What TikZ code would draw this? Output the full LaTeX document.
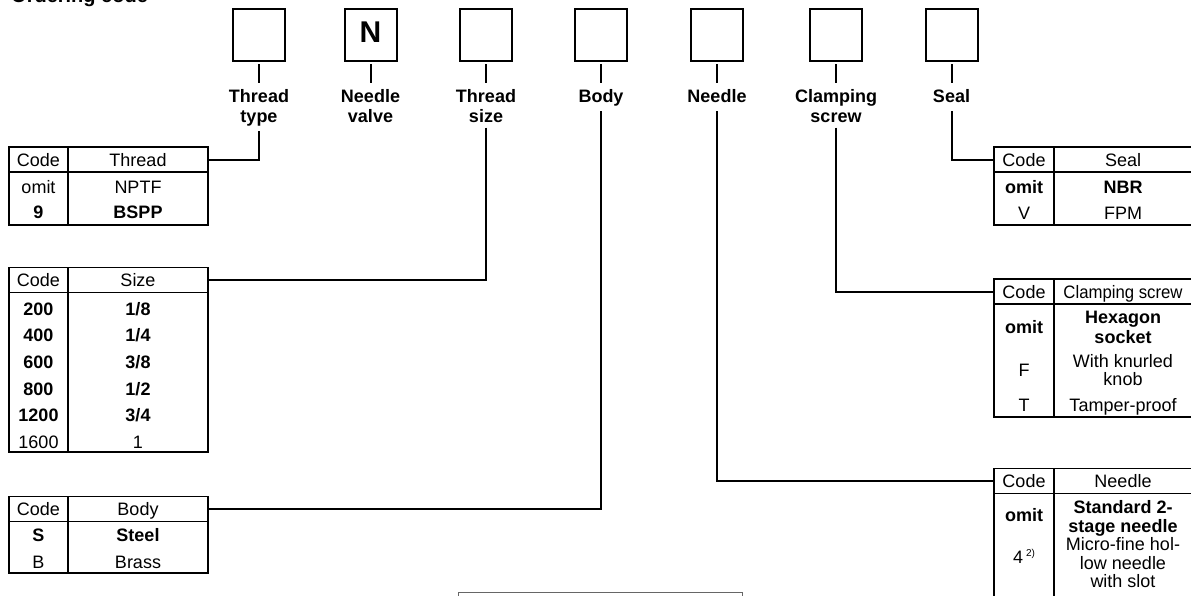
\documentclass[tikz,border=0pt]{standalone}
\usepackage{fontspec}
\setmainfont{Liberation Sans}

\begin{document}
\begin{tikzpicture}[x=1pt, y=-1pt,
  codebox/.style={draw, line width=2pt, minimum size=52pt, inner sep=0pt},
  lbl/.style={anchor=north, align=center, inner sep=4.5pt, font=\fontsize{18}{20}\selectfont\bfseries},
  lbl1/.style={lbl, text depth=3.8pt},
  conn/.style={line width=2pt},
  tick/.style={conn, shorten <=2pt, shorten >=2pt},
  hcell/.style={draw, line width=1.8pt, minimum height=25pt, inner sep=0pt, outer sep=0pt, text height=13.5pt, text depth=0pt, font=\fontsize{18}{20}\selectfont},
  tab/.style={line width=1.8pt},
  txt/.style={anchor=base, inner sep=0pt, align=center, font=\fontsize{18}{18.5}\selectfont},
  btxt/.style={txt, font=\fontsize{18}{19.5}\selectfont\bfseries}
]
\useasboundingbox (0,0) rectangle (1191,595);
\node[anchor=base west, inner sep=0pt, font=\fontsize{20}{20}\selectfont\bfseries] (title) at (11,2) {Ordering code};

% code positions
\node[codebox] (bThr) at (259,35.3) {};
\node[codebox, font=\fontsize{30}{30}\selectfont\bfseries, text depth=5.5pt] (bNv) at (370.5,35.3) {N};
\node[codebox] (bSize) at (486,35.3) {};
\node[codebox] (bBody) at (601,35.3) {};
\node[codebox] (bNdl) at (717,35.3) {};
\node[codebox] (bClp) at (836,35.3) {};
\node[codebox] (bSeal) at (951.5,35.3) {};

\node[lbl] (lThr) at (259,85) {Thread\\type};
\node[lbl] (lNv) at (370.5,85) {Needle\\valve};
\node[lbl] (lSize) at (486,85) {Thread\\size};
\node[lbl1] (lBody) at (601,85) {Body};
\node[lbl1] (lNdl) at (717,85) {Needle};
\node[lbl] (lClp) at (836,85) {Clamping\\screw};
\node[lbl1] (lSeal) at (951.5,85) {Seal};
\foreach \n in {Thr,Nv,Size,Body,Ndl,Clp,Seal}
  \draw[tick] (b\n) -- (l\n);

% thread table
\node[hcell, minimum width=59pt] (thrC) at (38.5,159.5) {Code};
\node[hcell, minimum width=140pt] (thrN) at (138,159.5) {Thread};
\draw[tab] (thrC.south west) rectangle (thrN.south east |- 0,225);
\draw[tab] (thrC.south east) -- (thrC.south east |- 0,225);
\node[txt] (thr1c) at (38.5,193.5) {omit};
\node[txt] (thr1n) at (138,193.5) {NPTF};
\node[btxt] (thr2c) at (38.5,218.5) {9};
\node[btxt] (thr2n) at (138,218.5) {BSPP};

% size table
\node[hcell, minimum width=59pt] (szC) at (38.5,280) {Code};
\node[hcell, minimum width=140pt] (szN) at (138,280) {Size};
\draw[tab] (szC.south west) rectangle (szN.south east |- 0,452);
\draw[tab] (szC.south east) -- (szC.south east |- 0,452);
\foreach \c/\s [count=\i from 0] in {200/{1/8},400/{1/4},600/{3/8},800/{1/2},1200/{3/4}} {
  \node[btxt] (sz\i c) at (38.5,315+26.7*\i) {\c};
  \node[btxt] (sz\i n) at (138,315+26.7*\i) {\s};
}
\node[txt] (sz5c) at (38.5,448.5) {1600};
\node[txt] (sz5n) at (138,448.5) {1};

% body table
\node[hcell, minimum width=59pt] (bdC) at (38.5,509) {Code};
\node[hcell, minimum width=140pt] (bdN) at (138,509) {Body};
\draw[tab] (bdC.south west) rectangle (bdN.south east |- 0,573);
\draw[tab] (bdC.south east) -- (bdC.south east |- 0,573);
\node[btxt] (bd1c) at (38.5,541.5) {S};
\node[btxt] (bd1n) at (138,541.5) {Steel};
\node[txt] (bd2c) at (38.5,568) {B};
\node[txt] (bd2n) at (138,568) {Brass};

% seal table
\node[hcell, minimum width=60pt] (slC) at (1024,159.5) {Code};
\node[hcell, minimum width=138pt] (slN) at (1123,159.5) {Seal};
\draw[tab] (slC.south west) rectangle (slN.south east |- 0,225);
\draw[tab] (slC.south east) -- (slC.south east |- 0,225);
\node[btxt] (sl1c) at (1024,193.5) {omit};
\node[btxt] (sl1n) at (1123,193.5) {NBR};
\node[txt] (sl2c) at (1024,219) {V};
\node[txt] (sl2n) at (1123,219) {FPM};

% clamping screw table
\node[hcell, minimum width=60pt] (clC) at (1024,291.5) {Code};
\node[hcell, minimum width=138pt] (clN) at (1123,291.5) {\scalebox{0.93}[1]{Clamping screw}};
\draw[tab] (clC.south west) rectangle (clN.south east |- 0,417);
\draw[tab] (clC.south east) -- (clC.south east |- 0,417);
\node[btxt] (cl1c) at (1024,333.3) {omit};
\node[btxt] (cl1n) at (1123,343.3) {Hexagon\\socket};
\node[txt] (cl2c) at (1024,376.7) {F};
\node[txt] (cl2n) at (1123,385.5) {With knurled\\knob};
\node[txt] (cl3c) at (1024,411.7) {T};
\node[txt] (cl3n) at (1123,411.7) {Tamper-proof};

% needle table
\node[hcell, minimum width=60pt] (ndC) at (1024,481) {Code};
\node[hcell, minimum width=138pt] (ndN) at (1123,481) {Needle};
\draw[tab] (ndC.south west) rectangle (ndN.south east |- 0,620);
\draw[tab] (ndC.south east) -- (ndC.south east |- 0,620);
\node[btxt] (nd1c) at (1024,521.7) {omit};
\node[btxt] (nd1n) at (1123,532.7) {Standard 2-\\stage needle};
\node[txt] (nd2c) at (1024,563.3) {4\,{\fontsize{10}{10}\selectfont\raisebox{7pt}{2)}}};
\node[txt] (nd2n) at (1123,587.7) {Micro-fine hol-\\low needle\\with slot};

\node[draw=black!60, line width=1pt, minimum width=284pt, minimum height=40pt, anchor=north west, inner sep=0pt, outer sep=0pt] (note) at (458.5,592.5) {};

% connectors
\draw[conn] (lThr.south) |- (thrN.east);
\draw[conn] (lSize.south) |- (szN.east);
\draw[conn] (lBody.south) |- (bdN.east);
\draw[conn] (lNdl.south) |- (ndC.west);
\draw[conn] (lClp.south) |- (clC.west);
\draw[conn] (lSeal.south) |- (slC.west);
\end{tikzpicture}
\end{document}
